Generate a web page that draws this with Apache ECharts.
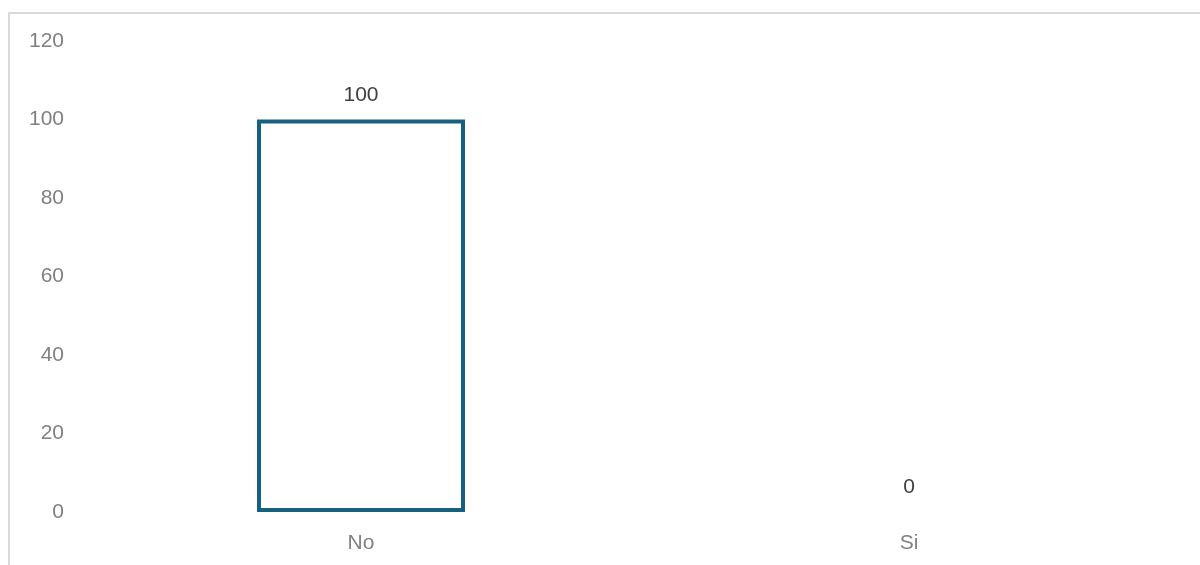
<!DOCTYPE html>
<html>
<head>
<meta charset="utf-8">
<script src="https://cdn.jsdelivr.net/npm/echarts@6/dist/echarts.min.js"></script>
<style>
  html, body { margin: 0; padding: 0; background: #fff; }
  #chart { width: 1200px; height: 565px; }
</style>
</head>
<body>
<div id="chart"></div>
<script>
const categories = ['No', 'Si']
const values = [100, 0]
const yTicks = [0, 20, 40, 60, 80, 100, 120]

const myChart = echarts.init(document.getElementById('chart'))
const option = {
  animation: false,
  textStyle: { fontFamily: 'Liberation Sans, Arial, sans-serif' },
  graphic: [
    {
      type: 'rect',
      shape: { x: 9, y: 13, width: 1400, height: 800 },
      style: { fill: 'none', stroke: '#d9d9d9', lineWidth: 2 },
      silent: true
    }
  ],
  grid: {
    left: 87,
    right: 17,
    top: 41,
    bottom: 53
  },
  xAxis: {
    type: 'category',
    data: categories,
    axisLine: { show: false },
    axisTick: { show: false },
    axisLabel: { color: '#808080', fontSize: 21, margin: 21 }
  },
  yAxis: {
    type: 'value',
    min: yTicks[0],
    max: yTicks[yTicks.length - 1],
    interval: 20,
    splitLine: { show: false },
    axisLine: { show: false },
    axisTick: { show: false },
    axisLabel: { color: '#808080', fontSize: 21, margin: 23 }
  },
  series: [
    {
      type: 'bar',
      // zero-height bars draw no outline
      data: values.map(v => ({
        value: v,
        itemStyle: v === 0 ? { borderWidth: 0 } : {}
      })),
      barWidth: 208,
      itemStyle: {
        color: '#ffffff',
        borderColor: '#17607f',
        borderWidth: 4
      },
      label: {
        show: true,
        position: 'top',
        distance: 14,
        color: '#404040',
        fontSize: 21
      }
    }
  ]
}
option && myChart.setOption(option)
</script>
</body>
</html>
